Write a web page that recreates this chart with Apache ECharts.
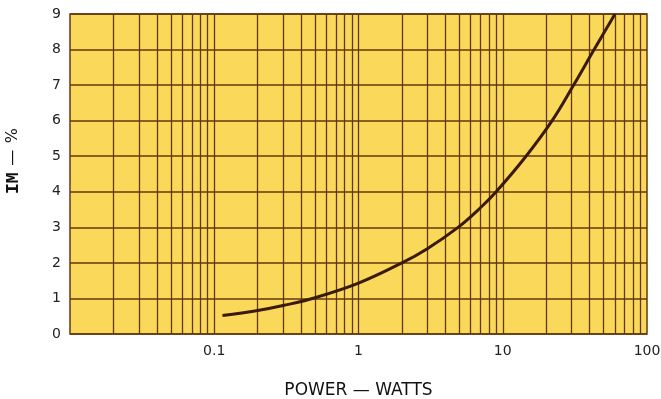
<!DOCTYPE html>
<html>
<head>
<meta charset="utf-8">
<script src="https://cdn.jsdelivr.net/npm/echarts@6/dist/echarts.min.js"></script>
<style>
html,body{margin:0;padding:0;background:#fff;}
#chart{width:661px;height:399px;}
</style>
</head>
<body>
<div id="chart"></div>
<script>
// Data
var powerWatts = [0.114, 0.2, 0.3, 0.5, 1, 2, 3, 4.9, 7, 9, 14.5, 22, 31, 43, 60];
var imPercent  = [0.52, 0.66, 0.8, 1.02, 1.43, 2.0, 2.4, 3.0, 3.55, 4.0, 5.0, 6.0, 7.0, 8.0, 9.0];
var xTickLabels = ['0.1', '1', '10', '100'];
var decades = [0.01, 0.1, 1, 10];
var multipliers = [1, 2, 3, 4, 5, 6, 7, 8, 9];

var gridColor = '#633810';
var verticalLines = [];
decades.forEach(function (d) {
  multipliers.forEach(function (m) {
    var v = +(d * m).toPrecision(3);
    if (v > 0.01) verticalLines.push({ xAxis: v });
  });
});

var labelFont = 'DejaVu Sans, sans-serif';
var chart = echarts.init(document.getElementById('chart'), null, { renderer: 'canvas' });
chart.setOption({
  animation: false,
  backgroundColor: '#ffffff',
  grid: {
    left: 70, right: 14, top: 14, bottom: 65,
    containLabel: false,
    outerBoundsMode: 'none',
    show: true,
    backgroundColor: '#f9d85a',
    borderColor: gridColor,
    borderWidth: 1.5
  },
  xAxis: {
    type: 'log',
    logBase: 10,
    min: 0.01,
    max: 100,
    name: 'POWER — WATTS',
    nameLocation: 'middle',
    nameGap: 48,
    nameTextStyle: { fontFamily: labelFont, fontSize: 17, color: '#111' },
    axisLine: { show: false },
    axisTick: { show: false },
    splitLine: { show: false },
    axisLabel: {
      margin: 10,
      fontFamily: labelFont,
      fontSize: 14,
      color: '#222',
      formatter: function (v) {
        var s = String(+v.toPrecision(3));
        return xTickLabels.indexOf(s) >= 0 ? s : '';
      }
    }
  },
  yAxis: {
    type: 'value',
    min: 0,
    max: 9,
    interval: 1,
    name: '{a|IM}  {b|—}  {b|%}',
    nameLocation: 'middle',
    nameGap: 48,
    nameRotate: 90,
    nameTextStyle: {
      padding: [0, 0, 0, 26],
      rich: {
        a: { fontFamily: 'Liberation Mono, DejaVu Sans Mono, monospace', fontWeight: 'bold', fontSize: 18, color: '#111' },
        b: { fontFamily: labelFont, fontSize: 16, color: '#111' }
      }
    },
    axisLine: { show: false },
    axisTick: { show: false },
    splitLine: { show: true, lineStyle: { color: gridColor, width: 1.5 } },
    axisLabel: {
      margin: 9,
      fontFamily: labelFont,
      fontSize: 14,
      color: '#222'
    }
  },
  series: [
    {
      type: 'line',
      z: 1,
      silent: true,
      data: [],
      markLine: {
        silent: true,
        symbol: ['none', 'none'],
        label: { show: false },
        lineStyle: { color: gridColor, width: 1.3, type: 'solid' },
        data: verticalLines
      }
    },
    {
      type: 'line',
      z: 5,
      smooth: 0.4,
      showSymbol: false,
      data: powerWatts.map(function (x, i) { return [x, imPercent[i]]; }),
      lineStyle: { color: '#3a1a0c', width: 3 }
    }
  ]
});
</script>
</body>
</html>
